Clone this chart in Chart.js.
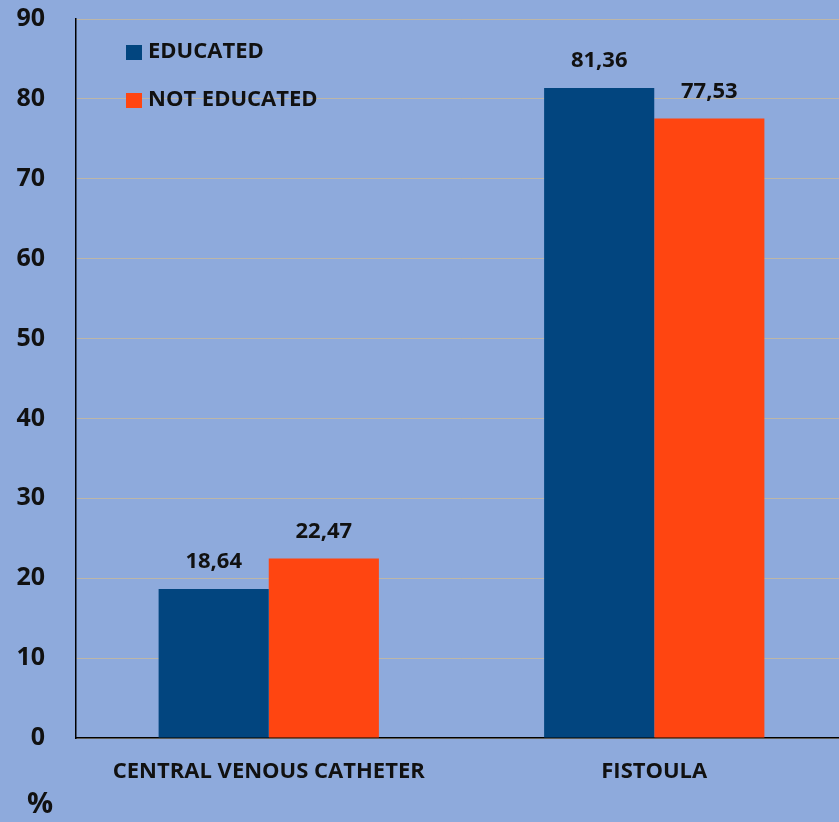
<!DOCTYPE html>
<html>
<head>
<meta charset="utf-8">
<script src="https://cdn.jsdelivr.net/npm/chart.js@4"></script>
<style>
  html, body { margin: 0; padding: 0; background: #8eaadc; overflow: hidden; }
  #wrap { width: 847px; height: 822px; }
</style>
</head>
<body>
<div id="wrap"><canvas id="c" width="847" height="822"></canvas></div>
<script>
const categories = ['CENTRAL VENOUS CATHETER', 'FISTOULA'];
const educated = [18.64, 81.36];
const notEducated = [22.47, 77.53];
const seriesNames = ['EDUCATED', 'NOT EDUCATED'];
const yTicks = [0, 10, 20, 30, 40, 50, 60, 70, 80, 90];

const FONT = '"Open Sans", sans-serif';
const fmt = v => v.toFixed(2).replace('.', ',');

// value labels above each bar
const valueLabels = {
  id: 'valueLabels',
  afterDatasetsDraw(chart) {
    const ctx = chart.ctx;
    ctx.save();
    ctx.font = 'bold 22px ' + FONT;
    ctx.fillStyle = '#111';
    ctx.textAlign = 'center';
    ctx.textBaseline = 'middle';
    chart.data.datasets.forEach((ds, i) => {
      chart.getDatasetMeta(i).data.forEach((bar, j) => {
        ctx.fillText(fmt(ds.data[j]), bar.x, bar.y - 27);
      });
    });
    ctx.restore();
  }
};

// legend drawn inside the plot, plus the unit mark under the axis
const innerLegend = {
  id: 'innerLegend',
  afterDraw(chart) {
    const ctx = chart.ctx;
    ctx.save();
    ctx.font = 'bold 22px ' + FONT;
    ctx.textBaseline = 'middle';
    ctx.textAlign = 'left';
    chart.data.datasets.forEach((ds, i) => {
      const y = 52 + i * 48;
      ctx.fillStyle = ds.backgroundColor;
      ctx.fillRect(126, y - 7, 16, 15);
      ctx.fillStyle = '#111';
      ctx.fillText(ds.label, 148, y);
    });
    ctx.font = 'bold 29px ' + FONT;
    ctx.textAlign = 'center';
    ctx.fillText('%', 40, 805);
    ctx.restore();
  }
};

new Chart(document.getElementById('c'), {
  type: 'bar',
  data: {
    labels: categories,
    datasets: [
      { label: seriesNames[0], data: educated, backgroundColor: '#02457f' },
      { label: seriesNames[1], data: notEducated, backgroundColor: '#ff4511' }
    ]
  },
  options: {
    responsive: false,
    animation: false,
    layout: { padding: { top: 19, left: 0, right: 0, bottom: 0 } },
    plugins: { legend: { display: false }, tooltip: { enabled: false } },
    datasets: { bar: { categoryPercentage: 0.5714, barPercentage: 1 } },
    scales: {
      x: {
        grid: { display: false, drawTicks: false },
        border: { color: '#000', width: 1.5 },
        ticks: { color: '#111', font: { family: FONT, size: 22, weight: 'bold' }, padding: 21, maxRotation: 0 },
        afterFit(s) { s.height = 84; s.paddingLeft = 0; s.paddingRight = 0; }
      },
      y: {
        min: 0, max: 90,
        afterBuildTicks(s) { s.ticks = yTicks.map(v => ({ value: v })); },
        grid: { color: '#bdb6a8', lineWidth: 1, drawTicks: false },
        border: { color: '#000', width: 1.5 },
        ticks: { color: '#111', font: { family: FONT, size: 25, weight: 'bold' }, padding: 31 },
        afterFit(s) { s.width = 76; s.paddingTop = 0; s.paddingBottom = 0; }
      }
    }
  },
  plugins: [valueLabels, innerLegend]
});
</script>
</body>
</html>
